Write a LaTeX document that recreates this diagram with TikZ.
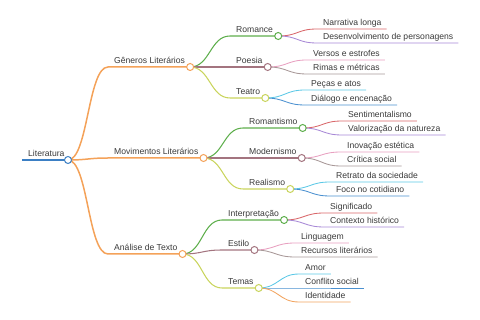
\documentclass[tikz,border=0pt]{standalone}
\usepackage{fontspec}
\setmainfont{Liberation Sans}
\usetikzlibrary{calc}
\definecolor{cRoot}{HTML}{3B7FC4}
\definecolor{cOr}{HTML}{F4A259}
\definecolor{cGr}{HTML}{5DAE4B}
\definecolor{cMa}{HTML}{A3747F}
\definecolor{cYg}{HTML}{C9D45C}
\definecolor{cRe}{HTML}{D9676A}
\definecolor{cPu}{HTML}{A889D6}
\definecolor{cPi}{HTML}{E8A0C0}
\definecolor{cGm}{HTML}{A89898}
\definecolor{cCy}{HTML}{5BC8E6}
\definecolor{cBl}{HTML}{4A90D0}
\definecolor{cOl}{HTML}{F2A561}
\definecolor{cTx}{HTML}{3A3A3A}
\tikzset{
  lbl/.style={inner sep=0pt, anchor=base west, text=cTx, font=\fontsize{8.6pt}{10pt}\selectfont},
  wA/.style={line width=1.5pt},
  wB/.style={line width=1.05pt},
  wC/.style={line width=0.85pt},
  dot/.style={circle, draw=#1, fill=white, inner sep=0pt, minimum size=7pt, line width=1pt},
}
% #1 parent, #2 name, #3 x start, #4 line y, #5 text, #6 style
\newcommand\mmkid[6]{%
  \node[lbl] (t#2) at (#3+6,#4-3) {#5};
  \coordinate (s#2) at (#3,#4);
  \coordinate (c#2) at ($(t#2.base east)+(5,3)$);
  \draw[#6] (c#1) .. controls ($(c#1)+(20,0)$) and ($(s#2)+(-20,0)$) .. (s#2) -- (c#2);
}
\begin{document}
\begin{tikzpicture}[x=1pt,y=-1pt]
\useasboundingbox (0,0) rectangle (480,320);
% root
\node[lbl] (tRoot) at (28,157) {Literatura};
\coordinate (sRoot) at (22,160);
\coordinate (cRoot) at (68,160);
\draw[cRoot, line width=1.8pt] (sRoot) -- (cRoot);
% level 1
\mmkid{Root}{Gen}{108}{67}{Gêneros Literários}{cOr,wA}
\mmkid{Root}{Mov}{108}{158}{Movimentos Literários}{cOr,wA}
\mmkid{Root}{Ana}{108}{254}{Análise de Texto}{cOr,wA}
% level 2
\mmkid{Gen}{Rom}{230}{36}{Romance}{cGr,wB}
\mmkid{Gen}{Poe}{230}{67}{Poesia}{cMa,wB}
\mmkid{Gen}{Tea}{230}{98}{Teatro}{cYg,wB}
\mmkid{Mov}{Rmt}{243}{128}{Romantismo}{cGr,wB}
\mmkid{Mov}{Mod}{243}{158}{Modernismo}{cMa,wB}
\mmkid{Mov}{Rea}{243}{189}{Realismo}{cYg,wB}
\mmkid{Ana}{Int}{222}{220}{Interpretação}{cGr,wB}
\mmkid{Ana}{Est}{222}{250}{Estilo}{cMa,wB}
\mmkid{Ana}{Tem}{222}{288}{Temas}{cYg,wB}
% level 3
\mmkid{Rom}{Nar}{317}{29}{Narrativa longa}{cRe,wC}
\mmkid{Rom}{Des}{317}{43}{Desenvolvimento de personagens}{cPu,wC}
\mmkid{Poe}{Ver}{307}{60}{Versos e estrofes}{cPi,wC}
\mmkid{Poe}{Rim}{307}{74}{Rimas e métricas}{cGm,wC}
\mmkid{Tea}{Pec}{305}{90}{Peças e atos}{cCy,wC}
\mmkid{Tea}{Dia}{305}{105}{Diálogo e encenação}{cBl,wC}
\mmkid{Rmt}{Sen}{342}{121}{Sentimentalismo}{cRe,wC}
\mmkid{Rmt}{Val}{342}{135}{Valorização da natureza}{cPu,wC}
\mmkid{Mod}{Ino}{341}{152}{Inovação estética}{cPi,wC}
\mmkid{Mod}{Cri}{341}{166}{Crítica social}{cGm,wC}
\mmkid{Rea}{Ret}{330}{182}{Retrato da sociedade}{cCy,wC}
\mmkid{Rea}{Foc}{330}{196}{Foco no cotidiano}{cBl,wC}
\mmkid{Int}{Sig}{324}{213}{Significado}{cRe,wC}
\mmkid{Int}{Con}{324}{227}{Contexto histórico}{cPu,wC}
\mmkid{Est}{Lin}{295}{243}{Linguagem}{cPi,wC}
\mmkid{Est}{Rec}{295}{257}{Recursos literários}{cGm,wC}
\mmkid{Tem}{Amo}{299}{274}{Amor}{cCy,wC}
\mmkid{Tem}{Cfl}{299}{288}{Conflito social}{cBl,wC}
\mmkid{Tem}{Ide}{299}{302}{Identidade}{cOl,wC}
% circles
\node[dot=cRoot] (dRoot) at (cRoot) {};
\node[dot=cOr] (dGen) at (cGen) {};
\node[dot=cOr] (dMov) at (cMov) {};
\node[dot=cOr] (dAna) at (cAna) {};
\node[dot=cGr] (dRom) at (cRom) {};
\node[dot=cMa] (dPoe) at (cPoe) {};
\node[dot=cYg] (dTea) at (cTea) {};
\node[dot=cGr] (dRmt) at (cRmt) {};
\node[dot=cMa] (dMod) at (cMod) {};
\node[dot=cYg] (dRea) at (cRea) {};
\node[dot=cGr] (dInt) at (cInt) {};
\node[dot=cMa] (dEst) at (cEst) {};
\node[dot=cYg] (dTem) at (cTem) {};
\end{tikzpicture}
\end{document}
